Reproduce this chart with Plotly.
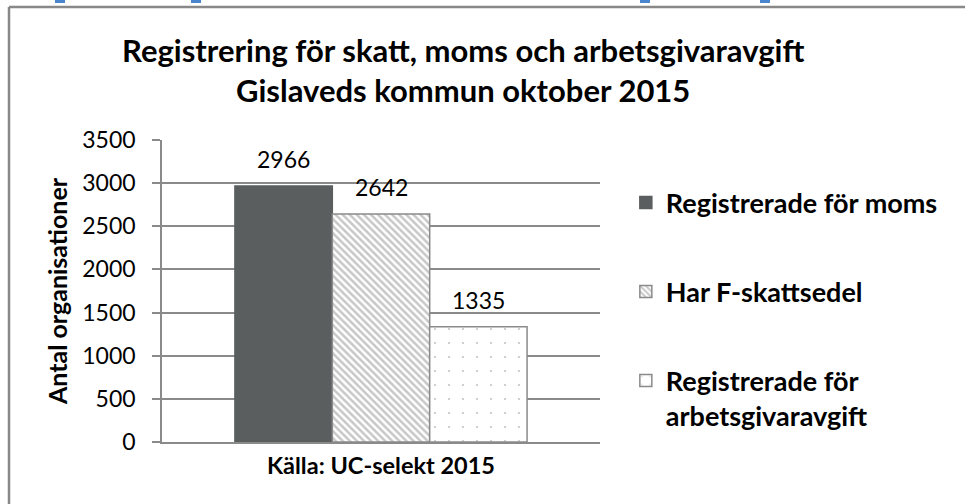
import plotly.graph_objects as go

category = ["Källa: UC-selekt 2015"]
series_names = ["Registrerade för moms", "Har F-skattsedel", "Registrerade för<br>arbetsgivaravgift"]
series_values = [[2966], [2642], [1335]]
y_ticks = [0, 500, 1000, 1500, 2000, 2500, 3000, 3500]

FONT = "Lato"
GRID = "#8a8a8a"
PLOT_W = 438
BARGAP = 0.333
BAR_W = PLOT_W * (1 - BARGAP) / len(series_values)

fills = [
    dict(color="#5a5e5f", line=dict(color="#5a5e5f", width=1.5)),
    dict(color="white", line=dict(color=GRID, width=1.5),
         pattern=dict(shape="\\", fgcolor="#8f8f8f", bgcolor="white", size=5, solidity=0.5)),
    dict(color="white", line=dict(color=GRID, width=1.5),
         pattern=dict(shape=".", fgcolor="#8a8a8a", bgcolor="white", size=14, solidity=0.02)),
]

xcat = ["<b>" + c + "</b>" for c in category]
fig = go.Figure()
for i, (name, vals) in enumerate(zip(series_names, series_values)):
    fig.add_trace(go.Bar(x=xcat, y=vals, name=name, marker=fills[i], legendgroup="g%d" % i))
    for xc, v in zip(xcat, vals):
        fig.add_annotation(x=xc, y=v, xref="x", yref="y", text=str(v), showarrow=False,
                           yanchor="bottom", yshift=11, xshift=(i - 1) * BAR_W,
                           font=dict(family=FONT, size=23, color="black"))

fig.add_annotation(text="<b>Registrering för skatt, moms och arbetsgivaravgift<br>Gislaveds kommun oktober 2015</b>",
                   xref="paper", yref="paper", x=(463 - 162) / PLOT_W, y=(442 - 29) / 302,
                   xanchor="center", yanchor="top", showarrow=False,
                   font=dict(family=FONT, size=31, color="black"))

fig.update_layout(
    width=965, height=504,
    margin=dict(l=162, r=365, t=140, b=62),
    paper_bgcolor="white", plot_bgcolor="white",
    barmode="group", bargap=BARGAP, bargroupgap=0,
    legend=dict(x=1.059, xanchor="left", y=0.873, yanchor="top",
                font=dict(family=FONT, size=27, color="black", weight="bold"),
                tracegroupgap=51, valign="top", bgcolor="rgba(0,0,0,0)"),
    showlegend=True,
)
fig.update_yaxes(range=[0, 3500], tickvals=y_ticks, showgrid=True, gridcolor=GRID, gridwidth=1.5,
                 showline=True, linecolor=GRID, linewidth=1.5, ticks="outside", ticklen=8,
                 tickcolor=GRID, tickwidth=1.5, zeroline=False, ticklabelstandoff=12,
                 tickfont=dict(family=FONT, size=23, color="black"),
                 title=dict(text="<b>Antal organisationer</b>", standoff=8,
                            font=dict(family=FONT, size=25, color="black")))
fig.update_xaxes(showline=True, linecolor=GRID, linewidth=1.5, ticks="", showgrid=False,
                 ticklabelstandoff=2,
                 tickfont=dict(family=FONT, size=23.5, color="black"))

# outer frame (left and top edges of the chart box)
fx = (9 - 162) / PLOT_W
fy = (442 - 7) / 302
fig.add_shape(type="line", xref="paper", yref="paper", x0=fx, x1=fx,
              y0=(442 - 510) / 302, y1=fy, line=dict(color="#888888", width=2.5))
fig.add_shape(type="line", xref="paper", yref="paper", x0=fx, x1=(970 - 162) / PLOT_W,
              y0=fy, y1=fy, line=dict(color="#888888", width=2.5))
# fragments of a cut-off heading above the chart
for xc in [60, 196, 645, 765]:
    fig.add_shape(type="rect", xref="paper", yref="paper",
                  x0=(xc - 5 - 162) / PLOT_W, x1=(xc + 5 - 162) / PLOT_W,
                  y0=(442 - 3) / 302, y1=(442 + 1) / 302,
                  line=dict(width=0), fillcolor="#4a86cf")

fig.write_html("out.html", config={"displayModeBar": False},
               post_script="document.body.style.margin='0';document.body.style.overflow='hidden';")
